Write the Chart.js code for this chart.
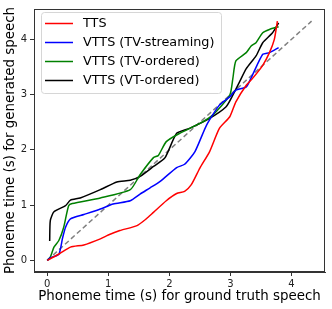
<!DOCTYPE html>
<html>
<head>
<meta charset="utf-8">
<script src="https://cdn.jsdelivr.net/npm/chart.js@4"></script>
<style>
  html, body { margin: 0; padding: 0; background: #fff; }
</style>
</head>
<body>
<canvas id="phonemeChart" width="332" height="309"></canvas>
<script>
// values
const ttsX = [0, 0.05, 0.2, 0.38, 0.6, 0.87, 1.0, 1.19, 1.47, 1.62, 1.74, 1.95, 2.12, 2.25, 2.36, 2.5, 2.66, 2.82, 2.99, 3.09, 3.26, 3.36, 3.53, 3.64, 3.72, 3.77];
const ttsY = [0, 0.03, 0.12, 0.24, 0.28, 0.39, 0.46, 0.54, 0.63, 0.75, 0.87, 1.08, 1.21, 1.25, 1.37, 1.67, 1.97, 2.39, 2.6, 2.87, 3.17, 3.29, 3.53, 3.76, 4.0, 4.33];

const streamX = [0, 0.05, 0.19, 0.25, 0.3, 0.38, 0.6, 0.87, 1.08, 1.36, 1.52, 1.68, 1.85, 2.12, 2.25, 2.42, 2.61, 2.82, 2.99, 3.09, 3.26, 3.36, 3.53, 3.64, 3.79];
const streamY = [0, 0.05, 0.11, 0.4, 0.6, 0.75, 0.83, 0.93, 1.02, 1.08, 1.2, 1.31, 1.43, 1.68, 1.74, 1.97, 2.45, 2.81, 2.96, 3.08, 3.14, 3.35, 3.73, 3.76, 3.85];

const tvOrdX = [0, 0.05, 0.11, 0.19, 0.27, 0.35, 0.41, 0.87, 1.36, 1.52, 1.74, 1.82, 1.95, 2.17, 2.5, 2.71, 2.99, 3.04, 3.09, 3.26, 3.34, 3.42, 3.53, 3.64, 3.79];
const tvOrdY = [0, 0.06, 0.24, 0.36, 0.6, 0.99, 1.03, 1.13, 1.28, 1.55, 1.86, 1.9, 2.15, 2.3, 2.48, 2.63, 2.99, 3.29, 3.61, 3.76, 3.88, 3.94, 4.12, 4.18, 4.23];

const vtOrdX = [0.04, 0.05, 0.11, 0.3, 0.38, 0.54, 0.87, 1.14, 1.36, 1.52, 1.74, 1.93, 2.12, 2.33, 2.66, 2.93, 3.04, 3.15, 3.26, 3.42, 3.53, 3.69, 3.79];
const vtOrdY = [0.35, 0.72, 0.88, 0.99, 1.09, 1.13, 1.28, 1.42, 1.45, 1.52, 1.70, 1.86, 2.30, 2.39, 2.57, 2.78, 2.99, 3.23, 3.47, 3.70, 3.94, 4.12, 4.30];

const diagX = [0, 4.33];
const diagY = [0, 4.33];

const seriesNames = ['TTS', 'VTTS (TV-streaming)', 'VTTS (TV-ordered)', 'VTTS (VT-ordered)'];
const seriesColors = ['#ff0000', '#0000ff', '#008000', '#000000'];
const tickValues = [0, 1, 2, 3, 4];

const toPoints = (xs, ys) => xs.map((x, i) => ({ x: x, y: ys[i] }));

const FONT = 'DejaVu Sans';
const FRAME = '#333';

// matplotlib style legend inside the axes, upper left
const boxLegend = {
    id: 'boxLegend',
    afterDraw(chart) {
        const ctx = chart.ctx;
        const area = chart.chartArea;
        // full frame around the axes
        ctx.save();
        ctx.strokeStyle = FRAME;
        ctx.lineWidth = 1;
        ctx.strokeRect(area.left + 0.5, area.top + 0.5, area.right - area.left - 1, area.bottom - area.top - 1);

        const x0 = 41, y0 = 12, w = 180, h = 81, r = 3;
        ctx.beginPath();
        ctx.roundRect(x0 + 0.5, y0 + 0.5, w, h, r);
        ctx.fillStyle = 'rgba(255,255,255,0.8)';
        ctx.fill();
        ctx.strokeStyle = '#d6d6d6';
        ctx.stroke();

        ctx.font = '12.8px "' + FONT + '"';
        ctx.textBaseline = 'middle';
        seriesNames.forEach((name, i) => {
            const y = 23.5 + i * 19;
            ctx.beginPath();
            ctx.moveTo(45, y);
            ctx.lineTo(73, y);
            ctx.strokeStyle = seriesColors[i];
            ctx.lineWidth = 1.5;
            ctx.stroke();
            ctx.fillStyle = '#000';
            ctx.fillText(name, 83, y);
        });
        ctx.restore();
    }
};

const lineSet = (label, xs, ys, color) => ({
    label: label,
    data: toPoints(xs, ys),
    borderColor: color,
    backgroundColor: color,
    borderWidth: 1.5,
    pointRadius: 0,
    showLine: true,
    tension: 0.2,
    fill: false
});

const ctxPhoneme = document.getElementById('phonemeChart').getContext('2d');
const phonemeChart = new Chart(ctxPhoneme, {
    type: 'scatter',
    data: {
        datasets: [
            lineSet(seriesNames[0], ttsX, ttsY, seriesColors[0]),
            lineSet(seriesNames[1], streamX, streamY, seriesColors[1]),
            lineSet(seriesNames[2], tvOrdX, tvOrdY, seriesColors[2]),
            lineSet(seriesNames[3], vtOrdX, vtOrdY, seriesColors[3]),
            {
                label: 'diagonal',
                data: toPoints(diagX, diagY),
                borderColor: '#808080',
                borderWidth: 1.5,
                borderDash: [5, 3],
                pointRadius: 0,
                showLine: true
            }
        ]
    },
    options: {
        responsive: false,
        animation: false,
        devicePixelRatio: 1,
        layout: { padding: { top: 6, right: 7, left: 0, bottom: 0 } },
        plugins: { legend: { display: false }, tooltip: { enabled: false } },
        scales: {
            x: {
                type: 'linear',
                min: -0.217,
                max: 4.55,
                afterBuildTicks: axis => { axis.ticks = tickValues.map(v => ({ value: v })); },
                afterFit: axis => { axis.height = 37; },
                grid: { drawOnChartArea: false, drawTicks: true, tickLength: 4, color: FRAME },
                border: { color: FRAME, width: 1 },
                ticks: { color: '#222', font: { family: FONT, size: 10 }, padding: 2, maxRotation: 0 },
                title: {
                    display: true,
                    text: 'Phoneme time (s) for ground truth speech',
                    color: '#000',
                    font: { family: FONT, size: 13.4 },
                    padding: { top: 1, bottom: 4 }
                }
            },
            y: {
                type: 'linear',
                min: -0.21,
                max: 4.55,
                afterBuildTicks: axis => { axis.ticks = tickValues.map(v => ({ value: v })); },
                afterFit: axis => { axis.width = 34; },
                grid: { drawOnChartArea: false, drawTicks: true, tickLength: 4, color: FRAME },
                border: { color: FRAME, width: 1 },
                ticks: { color: '#222', font: { family: FONT, size: 10 }, padding: 3 },
                title: {
                    display: true,
                    text: 'Phoneme time (s) for generated speech',
                    color: '#000',
                    font: { family: FONT, size: 13.4 },
                    padding: { top: 2, bottom: 2 }
                }
            }
        }
    },
    plugins: [boxLegend]
});
</script>
</body>
</html>
